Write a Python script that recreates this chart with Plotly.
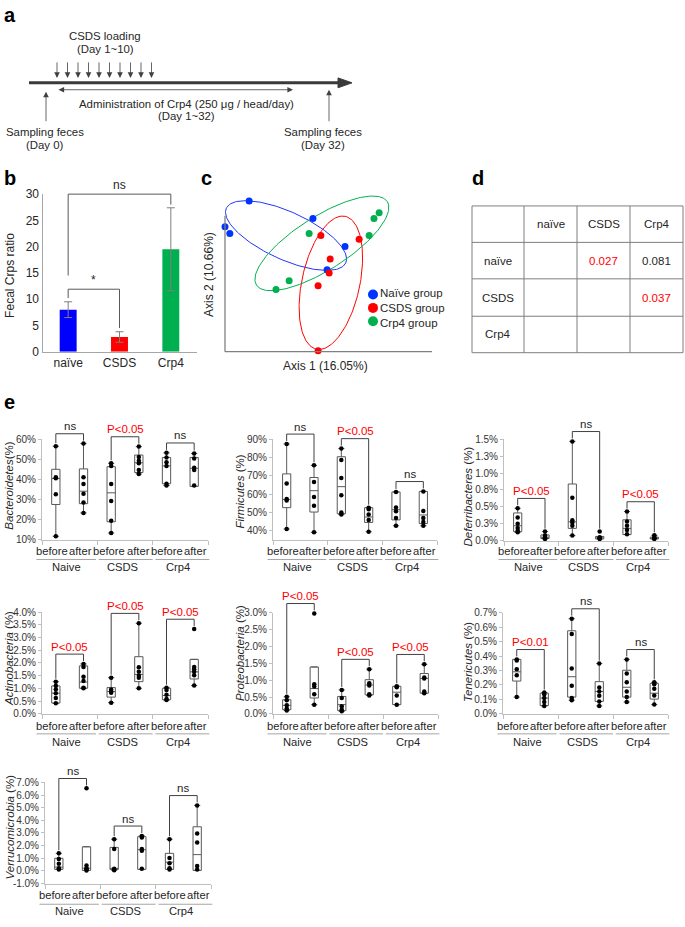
import numpy as np
import plotly.graph_objects as go

W, H = 685, 927


def fx(p):
    return p / W


def fy(p):
    return 1 - p / H


FONT = "Liberation Sans, Arial, Helvetica, sans-serif"
NARROW = "Liberation Sans Narrow, Arial Narrow, Liberation Sans, Arial, sans-serif"
DARK = "#262626"
LINE = "#404040"
RED = "#FF0000"

# ======================= DATA =======================
# (b) Fecal Crps ratio
b_groups = ["naïve", "CSDS", "Crp4"]
b_means = [8.0, 2.8, 19.5]
b_sd = [1.5, 1.0, 7.9]
b_colors = ["#0000FF", "#FF0000", "#00B050"]

# (c) PCoA scores
naive_ax1 = [-0.230, -0.300, -0.286, -0.045, 0.048, -0.004]
naive_ax2 = [0.194, 0.118, 0.098, 0.142, 0.060, -0.009]
csds_ax1 = [-0.022, 0.089, 0.005, 0.002, -0.030, -0.030]
csds_ax2 = [0.092, 0.081, 0.023, -0.018, -0.056, -0.247]
crp4_ax1 = [0.147, 0.132, 0.118, -0.056, -0.114, -0.152]
crp4_ax2 = [0.159, 0.142, 0.092, 0.098, -0.041, -0.067]
# group ellipses: centre ax1, centre ax2, semi-major, semi-minor, angle (deg)
naive_ellipse = [-0.123, 0.092, 0.191, 0.070, -25]
csds_ellipse = [0.007, -0.047, 0.200, 0.084, 78]
crp4_ellipse = [-0.019, 0.069, 0.226, 0.078, 33]
pcoa_groups = ["Naïve group", "CSDS group", "Crp4 group"]

# (d) pairwise p-values
d_labels = ["naïve", "CSDS", "Crp4"]
d_pvalues = [[None, 0.027, 0.081],
             [None, None, 0.037],
             [None, None, None]]

# (e) phylum relative abundance (%), boxes: Naive before/after, CSDS before/after, Crp4 before/after
e_groups = ["Naive", "CSDS", "Crp4"]
e_times = ["before", "after"]

bact_points = [[56.6, 41.2, 40.7, 32.7, 11.8],
               [57.9, 41.2, 37.8, 32.9, 28.6, 23.4],
               [48.1, 46.8, 37.8, 29.3, 19.5, 13.4],
               [56.4, 51.2, 49.4, 48.1, 44.8, 42.8],
               [53.3, 51.0, 48.6, 46.8, 37.9, 37.0],
               [53.0, 50.5, 45.9, 44.8, 37.0]]
bact_q1 = [27.6, 28.0, 19.0, 43.5, 37.9, 36.6]
bact_med = [40.5, 34.2, 33.4, 48.4, 46.8, 45.6]
bact_q3 = [45.1, 45.3, 46.4, 52.2, 51.0, 51.0]
bact_sig = ["ns", "P<0.05", "ns"]

firm_points = [[87.5, 65.9, 57.4, 56.5, 40.9],
               [75.8, 66.6, 58.5, 53.6, 39.1],
               [85.0, 78.7, 68.8, 59.4, 49.9, 48.8],
               [52.6, 51.7, 48.8, 45.9, 39.4],
               [61.2, 52.7, 50.6, 47.0, 42.7],
               [61.5, 50.8, 47.0, 44.8, 42.7]]
firm_q1 = [52.6, 50.2, 49.3, 44.5, 45.9, 43.9]
firm_med = [57.1, 61.9, 64.1, 47.5, 51.5, 48.6]
firm_q3 = [71.1, 69.1, 80.5, 52.6, 61.2, 61.5]
firm_sig = ["ns", "P<0.05", "ns"]

defe_points = [[0.478, 0.341, 0.249, 0.185, 0.146, 0.122],
               [0.132, 0.073, 0.049, 0.034, 0.024],
               [1.470, 0.633, 0.302, 0.268, 0.219, 0.073],
               [0.132, 0.049, 0.034, 0.024],
               [0.429, 0.283, 0.219, 0.156, 0.093],
               [0.078, 0.049, 0.034, 0.024]]
defe_q1 = [0.132, 0.030, 0.180, 0.024, 0.088, 0.024]
defe_med = [0.219, 0.049, 0.278, 0.040, 0.180, 0.035]
defe_q3 = [0.409, 0.083, 0.838, 0.060, 0.307, 0.050]
defe_sig = ["P<0.05", "ns", "P<0.05"]

acti_points = [[1.265, 1.100, 0.968, 0.813, 0.619, 0.413],
               [1.960, 1.845, 1.458, 1.290, 1.030, 1.006],
               [1.420, 0.955, 0.877, 0.826, 0.439],
               [3.560, 1.830, 1.650, 1.500, 1.420, 1.006],
               [1.030, 0.940, 0.748, 0.580, 0.540],
               [3.330, 1.845, 1.755, 1.650, 1.520, 1.110]]
acti_q1 = [0.426, 1.006, 0.658, 1.265, 0.555, 1.370]
acti_med = [0.813, 1.250, 0.877, 1.548, 0.720, 1.650]
acti_q3 = [1.097, 1.884, 1.032, 2.245, 1.006, 2.140]
acti_sig = ["P<0.05", "P<0.05", "P<0.05"]

prot_points = [[0.506, 0.400, 0.253, 0.156, 0.097],
               [2.980, 0.877, 0.810, 0.584, 0.273],
               [0.711, 0.468, 0.224, 0.127, 0.078],
               [1.325, 0.906, 0.838, 0.584, 0.545],
               [0.818, 0.789, 0.545, 0.273],
               [1.470, 1.081, 1.052, 0.662, 0.614]]
prot_q1 = [0.127, 0.470, 0.097, 0.565, 0.273, 0.614]
prot_med = [0.253, 0.750, 0.273, 0.857, 0.643, 1.052]
prot_q3 = [0.419, 1.390, 0.516, 1.013, 0.818, 1.198]
prot_sig = ["P<0.05", "P<0.05", "P<0.05"]

tene_points = [[0.377, 0.370, 0.309, 0.268, 0.116],
               [0.148, 0.136, 0.109, 0.082, 0.055],
               [0.659, 0.552, 0.314, 0.195, 0.109, 0.095],
               [0.348, 0.182, 0.155, 0.125, 0.086, 0.055],
               [0.377, 0.280, 0.218, 0.155, 0.116, 0.082],
               [0.218, 0.205, 0.173, 0.127, 0.064]]
tene_q1 = [0.227, 0.057, 0.116, 0.086, 0.116, 0.102]
tene_med = [0.291, 0.109, 0.257, 0.155, 0.184, 0.143]
tene_q3 = [0.377, 0.143, 0.575, 0.223, 0.302, 0.211]
tene_sig = ["P<0.01", "ns", "ns"]

verr_points = [[1.39, 0.95, 0.56, 0.22, 0.12],
               [6.53, 0.43, 0.22, 0.12, 0.04],
               [2.51, 1.73, 0.17, 0.12, 0.06],
               [2.77, 2.64, 1.73, 1.60, 0.17],
               [2.51, 1.03, 0.61, 0.22, 0.12],
               [5.18, 2.95, 2.25, 0.38, 0.12]]
verr_q1 = [0.12, 0.04, 0.12, 0.12, 0.12, 0.04]
verr_med = [0.30, 0.22, 0.15, 1.68, 0.69, 1.29]
verr_q3 = [1.00, 1.91, 1.86, 2.71, 1.39, 3.49]
verr_sig = ["ns", "ns", "ns"]

# ======================= FIGURE =======================
fig = go.Figure()
layout = dict(width=W, height=H, margin=dict(l=0, r=0, t=0, b=0),
              paper_bgcolor="white", plot_bgcolor="rgba(0,0,0,0)",
              showlegend=False, font=dict(family=FONT, size=11, color=DARK))
shapes = []
annos = []


def text(x, y, s, size=11, color=DARK, xanchor="center", yanchor="middle", angle=0, bold=False, family=FONT,
         xref="paper", yref="paper", align="center"):
    if bold:
        s = "<b>" + s + "</b>"
    annos.append(dict(x=x, y=y, xref=xref, yref=yref, text=s, showarrow=False, xanchor=xanchor,
                      yanchor=yanchor, textangle=angle, align=align, borderpad=0,
                      font=dict(size=size, color=color, family=family)))


def arrow(xh, yh, dx, dy, width=0.8, head=2, size=1.4, side="end"):
    annos.append(dict(x=fx(xh), y=fy(yh), xref="paper", yref="paper", ax=dx, ay=dy, axref="pixel",
                      ayref="pixel", text="", showarrow=True, arrowhead=head, arrowsize=size,
                      arrowwidth=width, arrowcolor=LINE, arrowside=side, startarrowhead=head,
                      startarrowsize=size, standoff=0, startstandoff=0))


def pline(x0, y0, x1, y1, color=LINE, width=1):
    shapes.append(dict(type="line", xref="paper", yref="paper", x0=fx(x0), y0=fy(y0), x1=fx(x1), y1=fy(y1),
                       line=dict(color=color, width=width)))


# panel letters
for lab, (lx, ly) in zip("abcde", [(3, 8), (3, 174), (200, 174), (471, 174), (3, 401)]):
    text(fx(lx), fy(ly), lab, size=20, color="black", xanchor="left", bold=True)

# ---------------- (a) timeline ----------------
pline(29, 77, 340, 77, color="#3A3A3A", width=3)
shapes.append(dict(type="path", xref="paper", yref="paper",
                   path=f"M {fx(352)},{fy(77)} L {fx(338)},{fy(72)} L {fx(338)},{fy(82)} Z",
                   fillcolor="#3A3A3A", line=dict(color="#3A3A3A", width=1)))
for k in range(10):
    arrow(57 + k * 10.5, 72, 0, -17)
arrow(293, 84, -236, 0, side="end+start")
arrow(46, 86, 0, 31)
arrow(329, 84, 0, 33)
AF = 11.4
text(fx(105), fy(29), "CSDS loading", size=AF)
text(fx(105), fy(43), "(Day 1~10)", size=AF)
text(fx(186), fy(98), "Administration of Crp4 (250 μg / head/day)", size=AF)
text(fx(186), fy(111), "(Day 1~32)", size=AF)
text(fx(45), fy(127), "Sampling feces", size=AF)
text(fx(45), fy(140), "(Day 0)", size=AF)
text(fx(323), fy(127), "Sampling feces", size=AF)
text(fx(323), fy(140), "(Day 32)", size=AF)

# ---------------- (b) bar chart ----------------
fig.add_trace(go.Bar(x=b_groups, y=b_means, width=0.33, marker=dict(color=b_colors, line=dict(width=0)),
                     error_y=dict(type="data", array=b_sd, color="#7F7F7F", thickness=1, width=4),
                     xaxis="x", yaxis="y"))
b_top, b_bot = 190, 350
layout["xaxis"] = dict(domain=[fx(42.5), fx(196.5)], anchor="y", showline=True, linecolor="#A6A6A6",
                       linewidth=1.2, ticks="", showgrid=False, zeroline=False,
                       tickfont=dict(size=12, color=DARK), range=[-0.5, 2.5])
layout["yaxis"] = dict(domain=[fy(b_bot), fy(b_top)], anchor="x", range=[0, 30], showline=True,
                       linecolor="#A6A6A6", linewidth=1.2, ticks="", showgrid=False, zeroline=False,
                       tickvals=[0, 5, 10, 15, 20, 25, 30], tickfont=dict(size=12, color=DARK))


def bpx(v):
    return b_bot + (b_top - b_bot) * v / 30.0


# significance brackets (data units)
for (i, j, yb, li, lj, lab) in [(0, 2, 30.0, 14.5, 28.0, "ns"), (0, 1, 11.9, 10.2, 4.5, "*")]:
    shapes.append(dict(type="path", xref="x", yref="paper", line=dict(color="#595959", width=1),
                       path=f"M {i},{fy(bpx(li))} L {i},{fy(bpx(yb))} L {j},{fy(bpx(yb))} L {j},{fy(bpx(lj))}"))
    text((i + j) / 2, fy(bpx(yb) - 1), lab, size=12, xref="x", yanchor="bottom")
text(fx(10), fy(273), "Fecal Crps ratio", size=12, angle=-90)

# ---------------- (c) PCoA ----------------
S = 0.0029  # score units per pixel


def cx_(p):
    return -0.30 + (p - 225) * S


def cy_(p):
    return -0.25 + (350 - p) * S


layout["xaxis2"] = dict(domain=[fx(215), fx(440)], anchor="y2", range=[cx_(215), cx_(440)], visible=False)
layout["yaxis2"] = dict(domain=[fy(352), fy(185)], anchor="x2", range=[cy_(352), cy_(185)], visible=False)
pline(225, 212, 225, 350, color="#808080", width=1.3)
pline(225, 350, 432, 350, color="#808080", width=1.3)


def ellipse_xy(cx, cy, a, b, ang):
    t = np.linspace(0, 2 * np.pi, 181)
    th = np.radians(ang)
    return (cx + a * np.cos(t) * np.cos(th) - b * np.sin(t) * np.sin(th),
            cy + a * np.cos(t) * np.sin(th) + b * np.sin(t) * np.cos(th))


pcoa_colors = ["#0033FF", "#FF0000", "#00B050"]
for (ex, col) in [(naive_ellipse, "#2233FF"), (csds_ellipse, "#FF0000"), (crp4_ellipse, "#00B050")]:
    xs, ys = ellipse_xy(*ex)
    fig.add_trace(go.Scatter(x=xs, y=ys, mode="lines", line=dict(color=col, width=1), xaxis="x2", yaxis="y2",
                             hoverinfo="skip"))
for (xs, ys, col) in zip([naive_ax1, csds_ax1, crp4_ax1], [naive_ax2, csds_ax2, crp4_ax2], pcoa_colors):
    fig.add_trace(go.Scatter(x=xs, y=ys, mode="markers", marker=dict(color=col, size=7), cliponaxis=False,
                             xaxis="x2", yaxis="y2"))
text(fx(325), fy(364), "Axis 1 (16.05%)", size=12)
text(fx(209), fy(272), "Axis 2 (10.66%)", size=12, angle=-90)
# legend symbols + labels
fig.add_trace(go.Scatter(x=[cx_(373)] * 3, y=[cy_(292), cy_(305.5), cy_(319)], mode="markers",
                         marker=dict(color=pcoa_colors, size=10), cliponaxis=False, xaxis="x2", yaxis="y2",
                         hoverinfo="skip"))
text(fx(379), fy(305.5), "<br>".join(pcoa_groups), size=11.5, xanchor="left", align="left")

# ---------------- (d) table ----------------
tx = [472, 524, 577, 630, 683]
ty = [202, 239, 276, 314, 351]
for x in tx:
    pline(x, ty[0], x, ty[-1], color="#7F7F7F", width=1)
for y in ty:
    pline(tx[0], y, tx[-1], y, color="#7F7F7F", width=1)
for c, lab in enumerate(d_labels):
    text(fx((tx[c + 1] + tx[c + 2]) / 2), fy((ty[0] + ty[1]) / 2), lab, size=11.5)
    text(fx((tx[0] + tx[1]) / 2), fy((ty[c + 1] + ty[c + 2]) / 2), lab, size=11.5)
for r in range(3):
    for c in range(3):
        p = d_pvalues[r][c]
        if p is not None:
            text(fx((tx[c + 1] + tx[c + 2]) / 2), fy((ty[r + 1] + ty[r + 2]) / 2), f"{p:.3f}", size=11.5,
                 color=RED if p < 0.05 else DARK)

# ---------------- (e) box plots ----------------
phyla = [
    dict(title="<i>Bacteroidetes</i>(%)", pts=bact_points, q1=bact_q1, med=bact_med, q3=bact_q3, sig=bact_sig,
         tv=[10, 20, 30, 40, 50, 60], tt=["10%", "20%", "30%", "40%", "50%", "60%"],
         xd=(42, 208), bot=541, top=439, m=(60, 439, 10, 541), ttl=(9, 486), rows=(552, 561, 569)),
    dict(title="<i>Firmicutes</i> (%)", pts=firm_points, q1=firm_q1, med=firm_med, q3=firm_q3, sig=firm_sig,
         tv=[40, 50, 60, 70, 80, 90], tt=["40%", "50%", "60%", "70%", "80%", "90%"],
         xd=(273, 437), bot=541, top=439, m=(90, 439, 40, 531.7), ttl=(240, 492), rows=(552, 561, 569)),
    dict(title="<i>Deferribacteres</i> (%)", pts=defe_points, q1=defe_q1, med=defe_med, q3=defe_q3,
         sig=defe_sig, tv=[0, 0.25, 0.5, 0.75, 1.0, 1.25, 1.5],
         tt=["0.0%", "0.3%", "0.5%", "0.8%", "1.0%", "1.3%", "1.5%"],
         xd=(504, 668), bot=541.7, top=439, m=(1.5, 439, 0, 541.7), ttl=(468, 497), rows=(552, 561, 569)),
    dict(title="<i>Actinobacteria</i> (%)", pts=acti_points, q1=acti_q1, med=acti_med, q3=acti_q3,
         sig=acti_sig, tv=[0, 0.5, 1, 1.5, 2, 2.5, 3, 3.5, 4],
         tt=["0.0%", "0.5%", "1.0%", "1.5%", "2.0%", "2.5%", "3.0%", "3.5%", "4.0%"],
         xd=(42, 208), bot=717.7, top=614.3, m=(4, 614.3, 0, 717.7), ttl=(9, 662), rows=(730, 738, 746)),
    dict(title="<i>Proteobacteria</i> (%)", pts=prot_points, q1=prot_q1, med=prot_med, q3=prot_q3,
         sig=prot_sig, tv=[0, 0.5, 1, 1.5, 2, 2.5, 3],
         tt=["0.0%", "0.5%", "1.0%", "1.5%", "2.0%", "2.5%", "3.0%"],
         xd=(273, 438), bot=717.7, top=615, m=(3, 615, 0, 717.7), ttl=(240, 656), rows=(730, 738, 746)),
    dict(title="<i>Tenericutes</i> (%)", pts=tene_points, q1=tene_q1, med=tene_med, q3=tene_q3,
         sig=tene_sig, tv=[0, 0.1, 0.2, 0.3, 0.4, 0.5, 0.6, 0.7],
         tt=["0.0%", "0.1%", "0.2%", "0.3%", "0.4%", "0.5%", "0.6%", "0.7%"],
         xd=(503, 668), bot=717.7, top=615, m=(0.7, 615, 0, 717.7), ttl=(468, 665), rows=(730, 738, 746)),
    dict(title="<i>Verrucomicrobia</i> (%)", pts=verr_points, q1=verr_q1, med=verr_med, q3=verr_q3,
         sig=verr_sig, tv=[-1, 0, 1, 2, 3, 4, 5, 6, 7],
         tt=["-1.0%", "0.0%", "1.0%", "2.0%", "3.0%", "4.0%", "5.0%", "6.0%", "7.0%"],
         xd=(45, 211), bot=890, top=787.3, m=(7, 787.3, -1, 890), ttl=(10, 833), rows=(902, 911, 918)),
]

sep_spans = [(-0.7, 1.45), (1.55, 3.5), (3.6, 5.55)]

for n, ph in enumerate(phyla):
    k = n + 3
    xa, ya = f"x{k}", f"y{k}"
    va, pa, vb, pb = ph["m"]
    x0d, x1d = ph["xd"]

    def vpx(v, va=va, pa=pa, vb=vb, pb=pb):
        return pa + (v - va) * (pb - pa) / (vb - va)

    def pxv(p, va=va, pa=pa, vb=vb, pb=pb):
        return va + (p - pa) * (vb - va) / (pb - pa)

    def ipx(i, x0d=x0d, x1d=x1d):
        return x0d + (i + 0.5) * (x1d - x0d) / 6.0

    layout[f"xaxis{k}"] = dict(domain=[fx(x0d), fx(x1d)], anchor=ya, range=[-0.5, 5.5],
                               showline=True, linecolor="#BFBFBF", linewidth=1, showgrid=False, zeroline=False,
                               tickvals=[-0.5, 1.5, 3.5, 5.5], ticks="outside", ticklen=4,
                               tickcolor="#BFBFBF", showticklabels=False)
    layout[f"yaxis{k}"] = dict(domain=[fy(ph["bot"]), fy(ph["top"])], anchor=xa,
                               range=[pxv(ph["bot"]), pxv(ph["top"])], showline=True, linecolor="#BFBFBF",
                               linewidth=1, showgrid=False, zeroline=False, tickvals=ph["tv"], ticktext=ph["tt"],
                               ticks="outside", ticklen=3, tickcolor="#BFBFBF",
                               tickfont=dict(size=10, color="#333333", family=NARROW))
    lf, uf = [], []
    for pts, a, b in zip(ph["pts"], ph["q1"], ph["q3"]):
        iqr = b - a
        inl = [p for p in pts if a - 1.5 * iqr <= p <= b + 1.5 * iqr]
        lf.append(min(min(inl), a))
        uf.append(max(max(inl), b))
    fig.add_trace(go.Box(x=list(range(6)), q1=ph["q1"], median=ph["med"], q3=ph["q3"], lowerfence=lf,
                         upperfence=uf, width=0.3, whiskerwidth=0.75, fillcolor="white",
                         line=dict(color="#595959", width=1), boxpoints=False, xaxis=xa, yaxis=ya,
                         hoverinfo="skip"))
    px_, py_ = [], []
    for i, pts in enumerate(ph["pts"]):
        px_ += [i] * len(pts)
        py_ += pts
    fig.add_trace(go.Scatter(x=px_, y=py_, mode="markers", marker=dict(color="black", size=4.5),
                             cliponaxis=False, xaxis=xa, yaxis=ya))
    # category labels
    cat_y, sep_y, grp_y = ph["rows"]
    for i in range(6):
        text(fx(ipx(-0.15 + i * 1.04)), fy(cat_y), e_times[i % 2], size=11.2)
    for g in range(3):
        text(fx(ipx(2 * g + 0.4)), fy(grp_y), e_groups[g], size=11.2)
        s0, s1 = sep_spans[g]
        pline(ipx(s0), sep_y, ipx(s1), sep_y, color="#A6A6A6", width=1)
        # significance bracket
        i, j = 2 * g, 2 * g + 1
        ti, tj = vpx(max(ph["pts"][i])), vpx(max(ph["pts"][j]))
        yb = min(ti, tj) - 10
        shapes.append(dict(type="path", xref=xa, yref="paper", line=dict(color=LINE, width=1),
                           path=f"M {i},{fy(ti - 3)} L {i},{fy(yb)} L {j},{fy(yb)} L {j},{fy(tj - 3)}"))
        lab = ph["sig"][g]
        text(i + 0.5, fy(yb - 0.5), lab, size=11.5, xref=xa, yanchor="bottom",
             color=RED if lab.startswith("P") else DARK)
    text(fx(ph["ttl"][0]), fy(ph["ttl"][1]), ph["title"], size=11.5, angle=-90)

layout["shapes"] = shapes
layout["annotations"] = annos
fig.update_layout(**layout)
fig.write_html("out.html", config={"displayModeBar": False},
               post_script="document.body.style.margin='0px';document.body.style.overflow='hidden';")
